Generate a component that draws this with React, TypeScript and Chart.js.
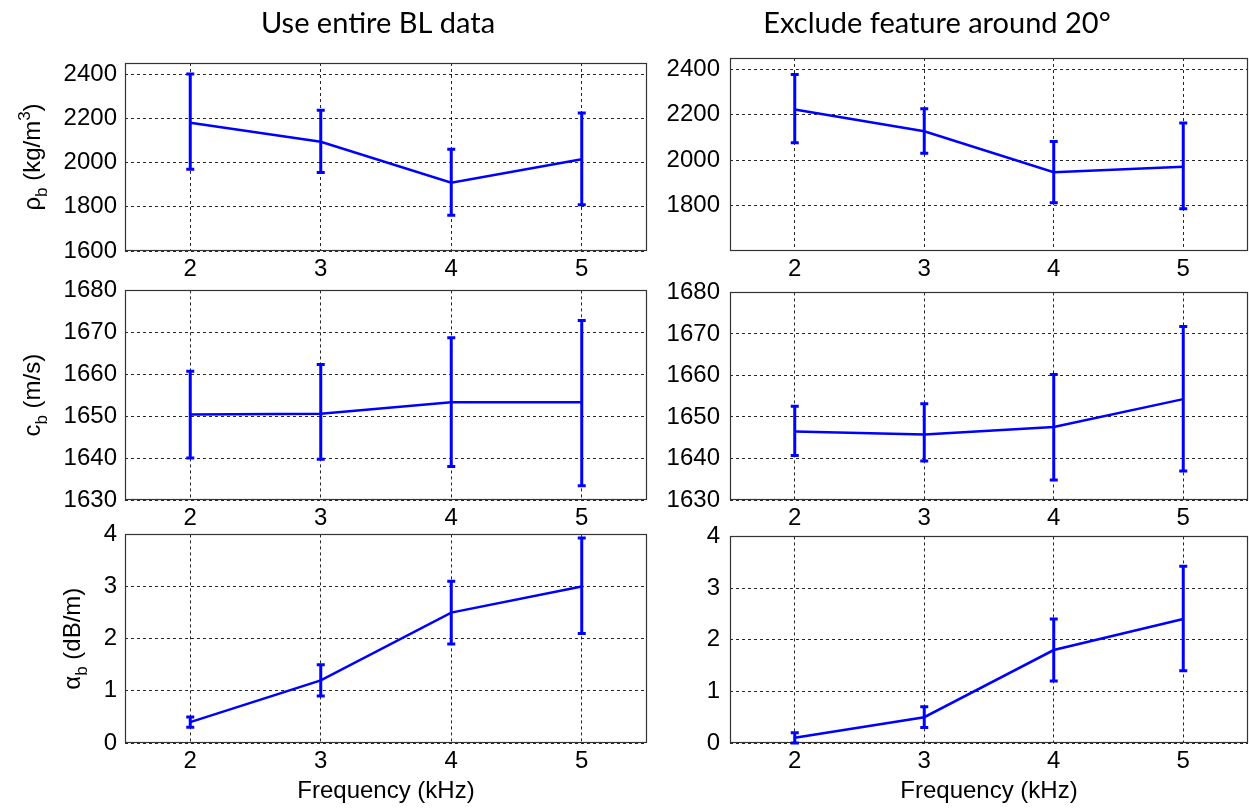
import React, { useEffect, useRef } from 'react';
import { Chart, registerables } from 'chart.js';

Chart.register(...registerables);

// ---------- data ----------
const freq = [2, 3, 4, 5];
const xTicks = [2, 3, 4, 5];

const rhoAll = [2180, 2094, 1909, 2015];
const rhoAllLo = [1970, 1955, 1762, 1809];
const rhoAllHi = [2400, 2236, 2060, 2224];

const rhoExcl = [2223, 2127, 1947, 1971];
const rhoExclLo = [2077, 2031, 1812, 1786];
const rhoExclHi = [2377, 2227, 2082, 2164];

const cAll = [1650.4, 1650.6, 1653.3, 1653.3];
const cAllLo = [1640, 1639.7, 1638, 1633.4];
const cAllHi = [1660.7, 1662.3, 1668.7, 1672.8];

const cExcl = [1646.5, 1645.8, 1647.6, 1654.3];
const cExclLo = [1640.7, 1639.4, 1634.8, 1637];
const cExclHi = [1652.6, 1653.2, 1660.2, 1671.8];

const aAll = [0.4, 1.2, 2.5, 3.0];
const aAllLo = [0.3, 0.9, 1.9, 2.1];
const aAllHi = [0.5, 1.5, 3.1, 3.93];

const aExcl = [0.1, 0.5, 1.8, 2.4];
const aExclLo = [0.0, 0.3, 1.2, 1.4];
const aExclHi = [0.2, 0.7, 2.4, 3.42];

const rhoTicksLeft = [1600, 1800, 2000, 2200, 2400];
const rhoTicksRight = [1800, 2000, 2200, 2400];
const cTicks = [1630, 1640, 1650, 1660, 1670, 1680];
const aTicks = [0, 1, 2, 3, 4];

const titleLeft = 'Use entire BL data';
const titleRight = 'Exclude feature around 20°';
const xTitle = 'Frequency (kHz)';

type Seg = { t: string; sub?: boolean; sup?: boolean };
const rhoLabel: Seg[] = [{ t: 'ρ' }, { t: 'b', sub: true }, { t: ' (kg/m' }, { t: '3', sup: true }, { t: ')' }];
const cLabel: Seg[] = [{ t: 'c' }, { t: 'b', sub: true }, { t: ' (m/s)' }];
const aLabel: Seg[] = [{ t: 'α' }, { t: 'b', sub: true }, { t: ' (dB/m)' }];

// ---------- layout ----------
type Rect = { x: number; y: number; w: number; h: number };
type Panel = {
  id: string;
  canvas: Rect;
  plot: Rect;
  values: number[];
  lo: number[];
  hi: number[];
  yMin: number;
  yMax: number;
  yTicks: number[];
  title?: string;
  titleX?: number;
  ylabel?: Seg[];
  ylabelX?: number;
  xTitle?: string;
  yPad: number;
};

const BLUE = '#0000ff';
const FAM = 'Liberation Sans, Arial, sans-serif';
const TICK_FONT = { family: FAM, size: 24 };

const panels: Panel[] = [
  { id: 'rhoAll', canvas: { x: 0, y: 0, w: 650, h: 286 }, plot: { x: 125, y: 63, w: 522, h: 188 },
    values: rhoAll, lo: rhoAllLo, hi: rhoAllHi, yMin: 1600, yMax: 2450, yTicks: rhoTicksLeft,
    title: titleLeft, titleX: 378, ylabel: rhoLabel, ylabelX: 40, yPad: 8 },
  { id: 'rhoExcl', canvas: { x: 650, y: 0, w: 599, h: 286 }, plot: { x: 730, y: 58, w: 518, h: 193 },
    values: rhoExcl, lo: rhoExclLo, hi: rhoExclHi, yMin: 1600, yMax: 2450, yTicks: rhoTicksRight,
    title: titleRight, titleX: 937, yPad: 10 },
  { id: 'cAll', canvas: { x: 0, y: 268, w: 650, h: 264 }, plot: { x: 125, y: 287, w: 522, h: 213 },
    values: cAll, lo: cAllLo, hi: cAllHi, yMin: 1630, yMax: 1680, yTicks: cTicks,
    ylabel: cLabel, ylabelX: 40, yPad: 8 },
  { id: 'cExcl', canvas: { x: 650, y: 268, w: 599, h: 264 }, plot: { x: 730, y: 288, w: 518, h: 212 },
    values: cExcl, lo: cExclLo, hi: cExclHi, yMin: 1630, yMax: 1680, yTicks: cTicks, yPad: 10 },
  { id: 'aAll', canvas: { x: 0, y: 512, w: 650, h: 296 }, plot: { x: 125, y: 533, w: 522, h: 210 },
    values: aAll, lo: aAllLo, hi: aAllHi, yMin: 0, yMax: 4, yTicks: aTicks,
    ylabel: aLabel, ylabelX: 80, xTitle, yPad: 8 },
  { id: 'aExcl', canvas: { x: 650, y: 512, w: 599, h: 296 }, plot: { x: 730, y: 535, w: 518, h: 208 },
    values: aExcl, lo: aExclLo, hi: aExclHi, yMin: 0, yMax: 4, yTicks: aTicks, xTitle, yPad: 10 },
];

// ---------- plugins ----------
const errorBarPlugin = {
  id: 'errorBars',
  afterDatasetsDraw(chart: any, _a: any, opts: any) {
    const { ctx } = chart;
    const x = chart.scales.x;
    const y = chart.scales.y;
    ctx.save();
    ctx.strokeStyle = opts.color;
    ctx.lineWidth = opts.width;
    ctx.lineCap = 'butt';
    const cap = opts.cap;
    opts.xs.forEach((f: number, i: number) => {
      const px = x.getPixelForValue(f);
      const pLo = y.getPixelForValue(opts.lo[i]);
      const pHi = y.getPixelForValue(opts.hi[i]);
      ctx.beginPath();
      ctx.moveTo(px, pLo);
      ctx.lineTo(px, pHi);
      ctx.moveTo(px - cap, pLo);
      ctx.lineTo(px + cap, pLo);
      ctx.moveTo(px - cap, pHi);
      ctx.lineTo(px + cap, pHi);
      ctx.stroke();
    });
    ctx.restore();
  },
};

const boxPlugin = {
  id: 'plotBox',
  beforeDatasetsDraw(chart: any) {
    const { ctx, chartArea: a } = chart;
    ctx.save();
    ctx.strokeStyle = '#333333';
    ctx.lineWidth = 1.2;
    ctx.strokeRect(Math.round(a.left) + 0.5, Math.round(a.top) + 0.5, Math.round(a.right - a.left) - 1, Math.round(a.bottom - a.top) - 1);
    ctx.restore();
  },
};

const yLabelPlugin = {
  id: 'richYLabel',
  afterDraw(chart: any, _a: any, opts: any) {
    if (!opts || !opts.segs) return;
    const { ctx, chartArea: a } = chart;
    const size = opts.size;
    const small = Math.round(size * 0.72);
    const fam = opts.family;
    ctx.save();
    ctx.fillStyle = '#000';
    ctx.textBaseline = 'alphabetic';
    ctx.textAlign = 'left';
    let total = 0;
    const widths = opts.segs.map((s: Seg) => {
      ctx.font = `${s.sub || s.sup ? small : size}px ${fam}`;
      const w = ctx.measureText(s.t).width;
      total += w;
      return w;
    });
    const cy = (a.top + a.bottom) / 2;
    ctx.translate(opts.x, cy);
    ctx.rotate(-Math.PI / 2);
    let cx = -total / 2;
    opts.segs.forEach((s: Seg, i: number) => {
      ctx.font = `${s.sub || s.sup ? small : size}px ${fam}`;
      const dy = s.sub ? size * 0.3 : s.sup ? -size * 0.42 : 0;
      ctx.fillText(s.t, cx, dy);
      cx += widths[i];
    });
    ctx.restore();
  },
};

const panelTitlePlugin = {
  id: 'panelTitle',
  afterDraw(chart: any, _a: any, opts: any) {
    if (!opts || !opts.text) return;
    const { ctx } = chart;
    ctx.save();
    ctx.fillStyle = '#000';
    ctx.font = `${opts.size}px ${opts.family}`;
    ctx.textAlign = 'center';
    ctx.textBaseline = 'alphabetic';
    ctx.fillText(opts.text, opts.x, opts.y);
    ctx.restore();
  },
};

function makeConfig(p: Panel): any {
  const padTop = p.plot.y - p.canvas.y;
  const padRight = p.canvas.x + p.canvas.w - (p.plot.x + p.plot.w);
  const yWidth = p.plot.x - p.canvas.x;
  const xHeight = p.canvas.y + p.canvas.h - (p.plot.y + p.plot.h);
  return {
    type: 'line',
    data: {
      datasets: [
        {
          data: freq.map((f, i) => ({ x: f, y: p.values[i] })),
          borderColor: BLUE,
          backgroundColor: BLUE,
          borderWidth: 2.5,
          pointRadius: 0,
          fill: false,
          tension: 0,
        },
      ],
    },
    options: {
      animation: false,
      responsive: false,
      events: [],
      layout: { padding: { top: padTop, right: padRight, left: 0, bottom: 0 } },
      plugins: {
        legend: { display: false },
        tooltip: { enabled: false },
        title: { display: false },
        panelTitle: p.title
          ? { text: p.title, x: (p.titleX as number) - p.canvas.x, y: 33, size: 29, family: 'Lato, "Open Sans", sans-serif' }
          : {},
        errorBars: { xs: freq, lo: p.lo, hi: p.hi, color: BLUE, width: 3, cap: 4 },
        richYLabel: p.ylabel ? { segs: p.ylabel, x: p.ylabelX, size: 24, family: FAM } : {},
      },
      scales: {
        x: {
          type: 'linear',
          min: 1.5,
          max: 5.5,
          afterBuildTicks: (ax: any) => {
            ax.ticks = xTicks.map((v) => ({ value: v }));
          },
          afterFit: (ax: any) => {
            ax.height = xHeight;
          },
          ticks: { color: '#000', font: TICK_FONT, padding: 4, maxRotation: 0, autoSkip: false, callback: (v: any) => String(v) },
          grid: { color: 'rgba(0,0,0,0.85)', lineWidth: 1, drawTicks: false },
          border: { display: false, dash: [3, 3] },
          title: p.xTitle
            ? { display: true, text: p.xTitle, color: '#000', font: { family: FAM, size: 24 }, padding: { top: 0, bottom: 2 } }
            : { display: false },
        },
        y: {
          type: 'linear',
          min: p.yMin,
          max: p.yMax,
          afterBuildTicks: (ax: any) => {
            ax.ticks = p.yTicks.map((v) => ({ value: v }));
          },
          afterFit: (ax: any) => {
            ax.width = yWidth;
          },
          ticks: { color: '#000', font: TICK_FONT, padding: p.yPad, autoSkip: false, callback: (v: any) => String(v) },
          grid: { color: 'rgba(0,0,0,0.85)', lineWidth: 1, drawTicks: false },
          border: { display: false, dash: [3, 3] },
        },
      },
    },
    plugins: [boxPlugin, errorBarPlugin, yLabelPlugin, panelTitlePlugin],
  };
}

function PanelChart({ p }: { p: Panel }) {
  const ref = useRef<HTMLCanvasElement | null>(null);
  useEffect(() => {
    if (!ref.current) return;
    const cfg = makeConfig(p);
    const chart = new Chart(ref.current, cfg);
    return () => chart.destroy();
  }, [p]);
  return (
    <canvas
      ref={ref}
      width={p.canvas.w}
      height={p.canvas.h}
      style={{ position: 'absolute', left: p.canvas.x, top: p.canvas.y, width: p.canvas.w, height: p.canvas.h }}
    />
  );
}

export default function App() {
  return (
    <div style={{ position: 'absolute', left: 0, top: 0, width: 1249, height: 808, background: '#fff', overflow: 'hidden' }}>
      {panels.map((p) => (
        <PanelChart key={p.id} p={p} />
      ))}
    </div>
  );
}
